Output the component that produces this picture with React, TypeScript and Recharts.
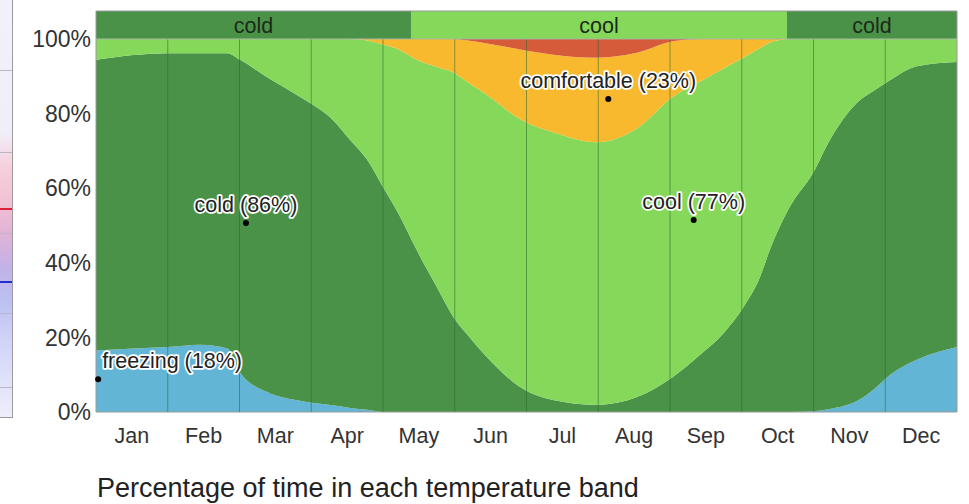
import React from 'react';
import { AreaChart, Area, XAxis, YAxis, ReferenceArea, ReferenceLine, ReferenceDot } from 'recharts';

// x positions in months (0 = 1 Jan, 12 = 31 Dec)
const monthPos = [0, 0.52, 0.99, 1.45, 1.83, 2.01, 2.38, 2.84, 3.3, 3.54, 3.78, 4.0, 4.24, 4.47, 4.75, 4.98, 5.21, 5.45, 5.91, 6.37, 6.98, 7.54, 8.04, 8.46, 8.74, 9.02, 9.25, 9.39, 9.67, 9.99, 10.23, 10.61, 10.83, 11.07, 11.44, 12.0];
// band thickness in % of time
const freezing = [16.5, 17, 17.4, 18, 17, 10.5, 5.4, 3, 1.8, 1.1, 0.6, 0, 0, 0, 0, 0, 0, 0, 0, 0, 0, 0, 0, 0, 0, 0, 0, 0, 0, 0.2, 0.8, 3, 5.9, 10, 14, 17.4];
const cold = [77.9, 78.7, 78.8, 78.2, 79.2, 83.9, 84.4, 81.5, 76.5, 71.9, 67, 60.3, 52.3, 43.4, 33.5, 25.5, 20, 14.7, 6.7, 3.2, 1.9, 4, 9.4, 16, 21, 28, 36, 43.4, 55, 63.8, 72.2, 80, 80.1, 79, 78.7, 76.4];
const cool = [5.6, 4.3, 3.8, 3.8, 3.8, 5.6, 10.2, 15.5, 21.7, 27, 32, 38.2, 44.7, 51, 59, 65.5, 68, 70.3, 71.8, 71.8, 70.4, 72, 75.1, 73, 71, 67, 61.5, 55.6, 45, 36, 27, 17, 14, 11, 7.3, 6.2];
const comfortable = [0, 0, 0, 0, 0, 0, 0, 0, 0, 0, 0.4, 1.5, 3, 5.6, 7.5, 9, 11.5, 13.8, 18.7, 20.8, 22.7, 20.3, 14.9, 11, 8, 5, 2.5, 1, 0, 0, 0, 0, 0, 0, 0, 0];
const warm = [0, 0, 0, 0, 0, 0, 0, 0, 0, 0, 0, 0, 0, 0, 0, 0, 0.5, 1.2, 2.8, 4.2, 5, 3.7, 0.6, 0, 0, 0, 0, 0, 0, 0, 0, 0, 0, 0, 0, 0];

const monthLabels = ['Jan', 'Feb', 'Mar', 'Apr', 'May', 'Jun', 'Jul', 'Aug', 'Sep', 'Oct', 'Nov', 'Dec'];
const monthTicks = [0.5, 1.5, 2.5, 3.5, 4.5, 5.5, 6.5, 7.5, 8.5, 9.5, 10.5, 11.5];
const monthBounds = [1, 2, 3, 4, 5, 6, 7, 8, 9, 10, 11];
const yTicks = [0, 20, 40, 60, 80, 100];

const seasonNames = ['cold', 'cool', 'cold'];
const seasonStart = [0, 4.39, 9.63];
const seasonEnd = [4.39, 9.63, 12];

const annLabels = ['freezing (18%)', 'cold (86%)', 'comfortable (23%)', 'cool (77%)'];
const annX = [0.03, 2.09, 7.14, 8.33];
const annY = [8.8, 50.7, 83.9, 51.5];

const COLORS = {
  freezing: '#63b5d6',
  cold: '#4b9249',
  cool: '#85d85a',
  comfortable: '#f8b92f',
  warm: '#d55b3b',
};
const seasonColor: Record<string, string> = { cold: COLORS.cold, cool: COLORS.cool };

const FONT = "'Liberation Sans', Arial, sans-serif";

const data = monthPos.map((m, i) => ({
  m,
  freezing: freezing[i],
  cold: cold[i],
  cool: cool[i],
  comfortable: comfortable[i],
  warm: warm[i],
}));

const makeDotShape = (label: string, start: boolean) => (props: any) => {
  const { cx, cy } = props;
  return (
    <g>
      <circle cx={cx} cy={cy} r={3} fill="#000" />
      <text
        x={start ? cx + 4 : cx}
        y={cy - 11}
        textAnchor={start ? 'start' : 'middle'}
        fontFamily={FONT}
        fontSize={21.5}
        fill="#222"
        stroke="#fff"
        strokeWidth={3.5}
        strokeLinejoin="round"
        paintOrder="stroke"
      >
        {label}
      </text>
    </g>
  );
};

export default function App() {
  return (
    <div style={{ position: 'absolute', left: 0, top: 0, width: 969, height: 504, background: '#fff', overflow: 'hidden' }}>
      {/* fragment of neighbouring chart at left edge */}
      <div
        style={{
          position: 'absolute',
          left: 0,
          top: 0,
          width: 12,
          height: 417,
          borderRight: '1px solid #9a9a9a',
          borderBottom: '1px solid #9a9a9a',
          background:
            'linear-gradient(to bottom, #f2f0f9 0%, #f0eef8 32%, #f6cfdc 40%, #f2c2d4 48%, #e2b2d6 56%, #c2b2e8 64%, #bcc0f2 72%, #d2d4f8 82%, #eeeefb 100%)',
        }}
      >
        {[70, 152, 233, 313, 387].map((y) => (
          <div key={y} style={{ position: 'absolute', left: 0, top: y, width: 12, height: 1, background: '#b8b8c8' }} />
        ))}
        <div style={{ position: 'absolute', left: 0, top: 208, width: 12, height: 2, background: '#e0203a' }} />
        <div style={{ position: 'absolute', left: 0, top: 281, width: 12, height: 2, background: '#2030d0' }} />
      </div>

      <div style={{ position: 'absolute', left: 0, top: 0 }}>
        <AreaChart width={969} height={504} data={data} margin={{ top: 11, right: 12, left: 16, bottom: 52 }}>
          <XAxis
            dataKey="m"
            type="number"
            domain={[0, 12]}
            ticks={monthTicks}
            tickFormatter={(v: number) => monthLabels[Math.floor(v)]}
            axisLine={false}
            tickLine={false}
            tickSize={6}
            tickMargin={10}
            height={40}
            interval={0}
            tick={{ fontFamily: FONT, fontSize: 21.5, fill: '#333' }}
          />
          <YAxis
            type="number"
            domain={[0, 107.5]}
            allowDataOverflow
            ticks={yTicks}
            tickFormatter={(v: number) => `${v}%`}
            axisLine={false}
            tickLine={false}
            tickSize={3}
            tickMargin={2}
            width={80}
            interval={0}
            tick={{ fontFamily: FONT, fontSize: 23, fill: '#333' }}
          />
          <Area type="monotone" dataKey="freezing" stackId="1" stroke="none" fill={COLORS.freezing} fillOpacity={1} isAnimationActive={false} dot={false} activeDot={false} />
          <Area type="monotone" dataKey="cold" stackId="1" stroke="none" fill={COLORS.cold} fillOpacity={1} isAnimationActive={false} dot={false} activeDot={false} />
          <Area type="monotone" dataKey="cool" stackId="1" stroke="none" fill={COLORS.cool} fillOpacity={1} isAnimationActive={false} dot={false} activeDot={false} />
          <Area type="monotone" dataKey="comfortable" stackId="1" stroke="none" fill={COLORS.comfortable} fillOpacity={1} isAnimationActive={false} dot={false} activeDot={false} />
          <Area type="monotone" dataKey="warm" stackId="1" stroke="none" fill={COLORS.warm} fillOpacity={1} isAnimationActive={false} dot={false} activeDot={false} />

          {monthBounds.map((b) => (
            <ReferenceLine
              key={`b${b}`}
              segment={[{ x: b, y: 0 }, { x: b, y: 100 }]}
              stroke="#2c6a2c"
              strokeOpacity={0.55}
              strokeWidth={1}
            />
          ))}

          {seasonNames.map((name, i) => (
            <ReferenceArea
              key={`s${i}`}
              x1={seasonStart[i]}
              x2={seasonEnd[i]}
              y1={100}
              y2={107.5}
              fill={seasonColor[name]}
              fillOpacity={1}
              stroke="none"
              label={{ value: name, position: 'center', fill: '#1b2a1b', fontSize: 21.5, fontFamily: FONT }}
            />
          ))}
          <ReferenceLine y={100} stroke="#a8b8a0" strokeWidth={1} />

          {annLabels.map((lab, i) => (
            <ReferenceDot key={`a${i}`} x={annX[i]} y={annY[i]} r={3} shape={makeDotShape(lab, i === 0)} />
          ))}

          <ReferenceArea x1={0} x2={12} y1={0} y2={107.5} fill="none" fillOpacity={0} stroke="#9a9a9a" strokeWidth={1} />
        </AreaChart>
      </div>

      <svg style={{ position: 'absolute', left: 0, top: 440 }} width={969} height={64}>
        <text x={97} y={57} fontFamily={FONT} fontSize={27} fill="#222">
          Percentage of time in each temperature band
        </text>
      </svg>
    </div>
  );
}
